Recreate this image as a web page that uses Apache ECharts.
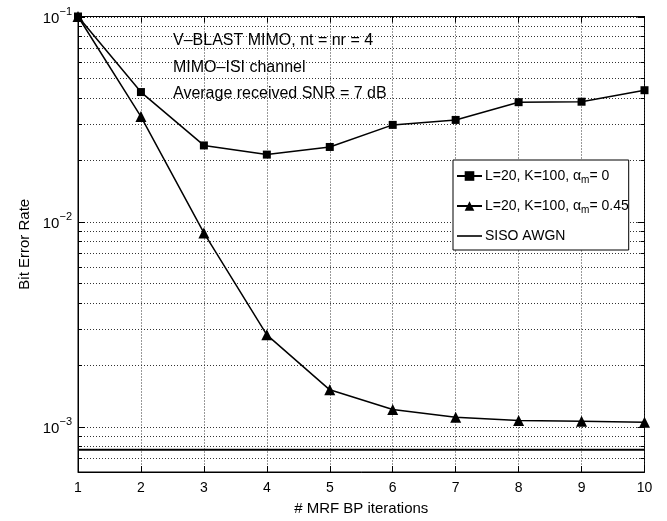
<!DOCTYPE html>
<html><head><meta charset="utf-8">
<script src="https://cdn.jsdelivr.net/npm/echarts@6/dist/echarts.min.js"></script>
<style>html,body{margin:0;padding:0;background:#fff}#c{width:667px;height:521px}</style>
</head><body><div id="c"></div>
<script>
// ---- data ----
const iterations = [1, 2, 3, 4, 5, 6, 7, 8, 9, 10];
const berAlpha0 = [0.1, 0.0428, 0.0235, 0.0212, 0.0231, 0.0296, 0.0313, 0.0382, 0.0384, 0.0437];
const berAlpha045 = [0.1, 0.0325, 0.0088, 0.0028, 0.00151, 0.00121, 0.00111, 0.00107, 0.00106, 0.00105];
const sisoAwgnBer = 7.7e-4;
const xTicks = [1, 2, 3, 4, 5, 6, 7, 8, 9, 10];
const yDecades = [1e-3, 1e-2, 1e-1];
const yMinorGrid = [7e-4, 8e-4, 9e-4, 2e-3, 3e-3, 4e-3, 5e-3, 6e-3, 7e-3, 8e-3, 9e-3,
                    2e-2, 3e-2, 4e-2, 5e-2, 6e-2, 7e-2, 8e-2, 9e-2];
const seriesNames = ['L=20, K=100, αm= 0', 'L=20, K=100, αm= 0.45', 'SISO AWGN'];
const legendRich = ['{a|L=20, K=100, α}{m|m}{a|= 0}', '{a|L=20, K=100, α}{m|m}{a|= 0.45}', '{a|SISO AWGN}'];
const annotations = ['V–BLAST MIMO, nt = nr = 4', 'MIMO–ISI channel', 'Average received SNR = 7 dB'];
const xTitle = '# MRF BP iterations';
const yTitle = 'Bit Error Rate';

const FONT = "'Liberation Sans', Arial, Helvetica, sans-serif";
const chart = echarts.init(document.getElementById('c'), null, {renderer: 'canvas'});

const gridRows = yDecades.map(v => [1, v, 1]).concat(yMinorGrid.map(v => [1, v, 0]));

const option = {
  backgroundColor: '#fff',
  animation: false,
  textStyle: {fontFamily: FONT},
  grid: {left: 78, right: 22.5, top: 16.5, bottom: 48.3, show: true, borderColor: '#000', borderWidth: 1, backgroundColor: '#fff'},
  xAxis: [{
    type: 'value', min: 1, max: 10, interval: 1, position: 'bottom',
    name: xTitle, nameLocation: 'middle', nameGap: 29,
    nameTextStyle: {fontSize: 15, color: '#000', fontFamily: FONT},
    axisLine: {show: true, lineStyle: {color: '#000', width: 1}},
    axisTick: {show: true, inside: true, length: 6, lineStyle: {color: '#000'}},
    axisLabel: {show: true, margin: 9, fontSize: 14, color: '#000', fontFamily: FONT},
    splitLine: {show: true, lineStyle: {color: '#333', type: [1, 2], width: 1}}
  }, {
    type: 'value', min: 1, max: 10, interval: 1, position: 'top',
    axisLine: {show: true, lineStyle: {color: '#000'}},
    axisTick: {show: true, inside: true, length: 6, lineStyle: {color: '#000'}},
    axisLabel: {show: false}, splitLine: {show: false}
  }],
  yAxis: [{
    type: 'log', logBase: 10, min: 6e-4, max: 0.1,
    name: yTitle, nameLocation: 'middle', nameGap: 45, nameRotate: 90,
    nameTextStyle: {fontSize: 15, color: '#000', fontFamily: FONT},
    axisLine: {show: true, lineStyle: {color: '#000'}},
    axisTick: {show: false},
    splitLine: {show: false},
    axisLabel: {
      show: true, margin: 6, color: '#000', fontFamily: FONT,
      formatter: function (v) {
        const e = Math.log10(v);
        if (Math.abs(e - Math.round(e)) > 1e-6) return '';
        const r = Math.round(e);
        return '{b|10}{s|' + (r < 0 ? '\u2212' + (-r) : r) + '}';
      },
      rich: {
        b: {fontSize: 15, fontFamily: FONT, color: '#000', lineHeight: 20, verticalAlign: 'bottom'},
        s: {fontSize: 11, fontFamily: FONT, color: '#000', lineHeight: 11, verticalAlign: 'top'}
      }
    }
  }],
  legend: {
    show: true, orient: 'vertical', left: 453, top: 160,
    backgroundColor: '#fff', borderColor: '#000', borderWidth: 1, borderRadius: 0,
    padding: [9, 0, 7, 3], itemGap: 14, itemWidth: 25, itemHeight: 12,
    data: [{name: seriesNames[0]}, {name: seriesNames[1]},
           {name: seriesNames[2], icon: 'path://M0,0L25,0L25,1.6L0,1.6Z'}],
    formatter: function (name) { return legendRich[seriesNames.indexOf(name)]; },
    textStyle: {
      color: '#000', fontSize: 14, fontFamily: FONT, padding: [0, 0, 0, -2],
      rich: {
        a: {fontSize: 14, fontFamily: FONT, color: '#000', lineHeight: 18},
        m: {fontSize: 10, fontFamily: FONT, color: '#000', lineHeight: 10, verticalAlign: 'bottom'}
      }
    }
  },
  graphic: annotations.map((t, i) => ({
    type: 'text', left: 173, top: 33 + i * 26.5, z: 50,
    style: {text: t, fontSize: 16, fontFamily: FONT, fill: '#000'}
  })),
  series: [{
    type: 'custom', name: 'grid', silent: true, z: 1, clip: false,
    data: gridRows,
    renderItem: function (params, api) {
      const cs = params.coordSys;
      const y = Math.round(api.coord([api.value(0), api.value(1)])[1]) + 0.5;
      const major = api.value(2) === 1;
      const tl = major ? 7 : 4;
      return {
        type: 'group', children: [
          {type: 'line', shape: {x1: cs.x, y1: y, x2: cs.x + cs.width, y2: y},
           style: {stroke: '#333', lineWidth: 1, lineDash: [1, 2]}},
          {type: 'line', shape: {x1: cs.x, y1: y, x2: cs.x + tl, y2: y}, style: {stroke: '#000', lineWidth: 1}},
          {type: 'line', shape: {x1: cs.x + cs.width - tl, y1: y, x2: cs.x + cs.width, y2: y}, style: {stroke: '#000', lineWidth: 1}}
        ]
      };
    }
  }, {
    type: 'line', name: seriesNames[0], z: 5, clip: false,
    data: iterations.map((x, i) => [x, berAlpha0[i]]),
    symbol: 'rect', symbolSize: 8, showSymbol: true,
    lineStyle: {color: '#000', width: 1.5}, itemStyle: {color: '#000'}
  }, {
    type: 'line', name: seriesNames[1], z: 5, clip: false,
    data: iterations.map((x, i) => [x, berAlpha045[i]]),
    symbol: 'triangle', symbolSize: 11, showSymbol: true,
    lineStyle: {color: '#000', width: 1.5}, itemStyle: {color: '#000'}
  }, {
    type: 'line', name: seriesNames[2], z: 5,
    data: [[xTicks[0], sisoAwgnBer], [xTicks[xTicks.length - 1], sisoAwgnBer]],
    symbol: 'none', showSymbol: false,
    lineStyle: {color: '#000', width: 2}, itemStyle: {color: '#000'}
  }]
};
chart.setOption(option);
</script>
</body></html>
